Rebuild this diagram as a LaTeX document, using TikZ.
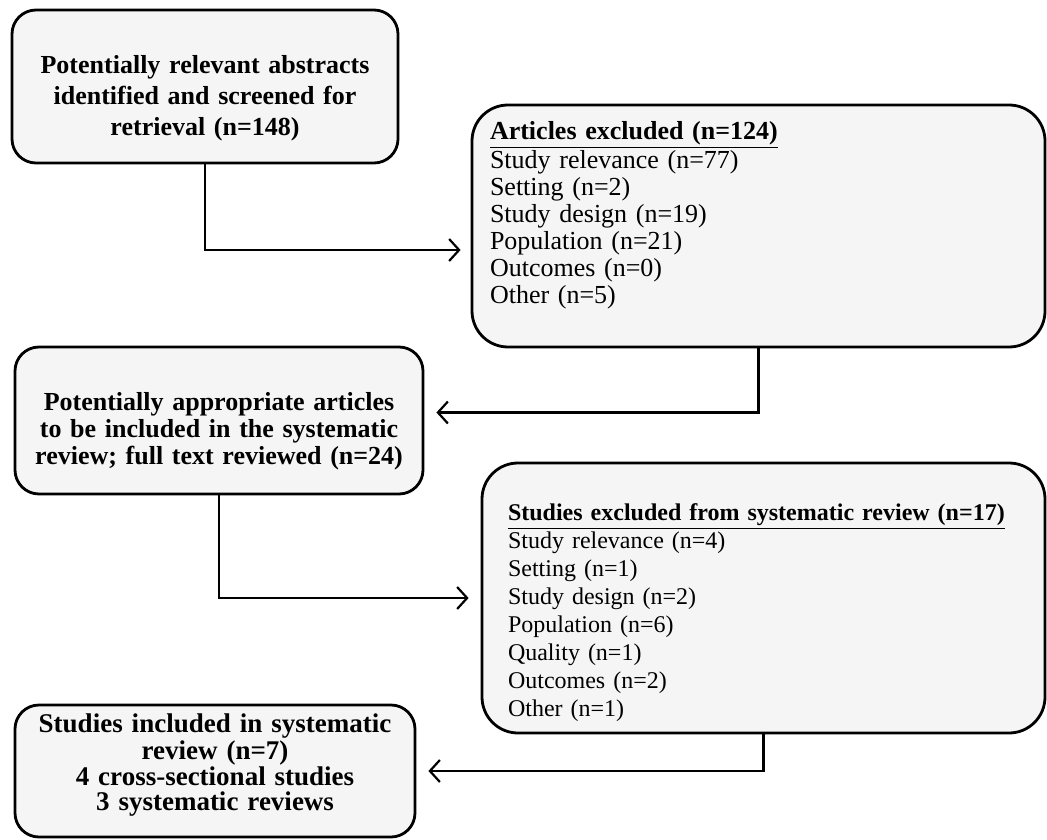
\documentclass[tikz,border=0pt]{standalone}
\usepackage{fontspec}
\setmainfont{Liberation Serif}
\usetikzlibrary{arrows.meta}
\newcommand{\ulhead}[1]{\underline{\textbf{#1}}}

\begin{document}
\begin{tikzpicture}[x=0.5pt,y=-0.5pt,
  box/.style={draw=black, line width=1.4pt, fill=black!4, inner sep=0pt, rounded corners=12pt},
  head/.style={box, align=center, font=\bfseries\fontsize{13}{13.5}\selectfont},
  list/.style={box, align=left, rounded corners=18pt},
  arr/.style={line width=1.1pt, -{Straight Barb[length=5pt,width=11pt]}, shorten >=5pt}]

\useasboundingbox (0,0) rectangle (1047,839);

\node[head, font=\bfseries\fontsize{13}{15.5}\selectfont, text width=185pt, minimum width=193pt, minimum height=76.5pt] (abstr) at (205,86.5)
  {\rule{0pt}{21pt}Potentially relevant abstracts\\identified and screened for\\retrieval (n=148)};

\node[list, font=\fontsize{13}{13.5}\selectfont, inner xsep=9pt, text width=268.5pt, minimum width=286.5pt, minimum height=121pt] (excla) at (758.5,226)
  {\ulhead{Articles excluded (n=124)}\\
   Study relevance (n=77)\\
   Setting (n=2)\\
   Study design (n=19)\\
   Population (n=21)\\
   Outcomes (n=0)\\
   Other (n=5)\\
   \mbox{}};

\node[head, text width=200pt, minimum width=204pt, minimum height=73.5pt] (appr) at (219,420.5)
  {\rule{0pt}{20pt}Potentially appropriate articles\\to be included in the systematic\\review; full text reviewed (n=24)};

\node[list, font=\fontsize{12}{14}\selectfont, inner xsep=13pt, text width=255.5pt, minimum width=281.5pt, minimum height=135pt] (exclb) at (763.5,598)
  {\rule{0pt}{23pt}\ulhead{Studies excluded from systematic review (n=17)}\\
   Study relevance (n=4)\\
   Setting (n=1)\\
   Study design (n=2)\\
   Population (n=6)\\
   Quality (n=1)\\
   Outcomes (n=2)\\
   Other (n=1)};

\node[head, font=\bfseries\fontsize{13.5}{12.2}\selectfont, text width=196pt, minimum width=200pt, minimum height=66pt] (incl) at (215,771)
  {Studies included in systematic\\review (n=7)\\4 cross-sectional studies\\3 systematic reviews\rule[-9pt]{0pt}{0pt}};

%
\draw[arr] (abstr.south) |- ([yshift=-12pt]excla.west);
\draw[arr, shorten >=6pt] (excla.south) |- ([yshift=4pt]appr.east);
\draw[arr, shorten >=6pt] (appr.south) |- (exclb.west);
\draw[arr, shorten >=6pt] (exclb.south) |- (incl.east);

\end{tikzpicture}
\end{document}
